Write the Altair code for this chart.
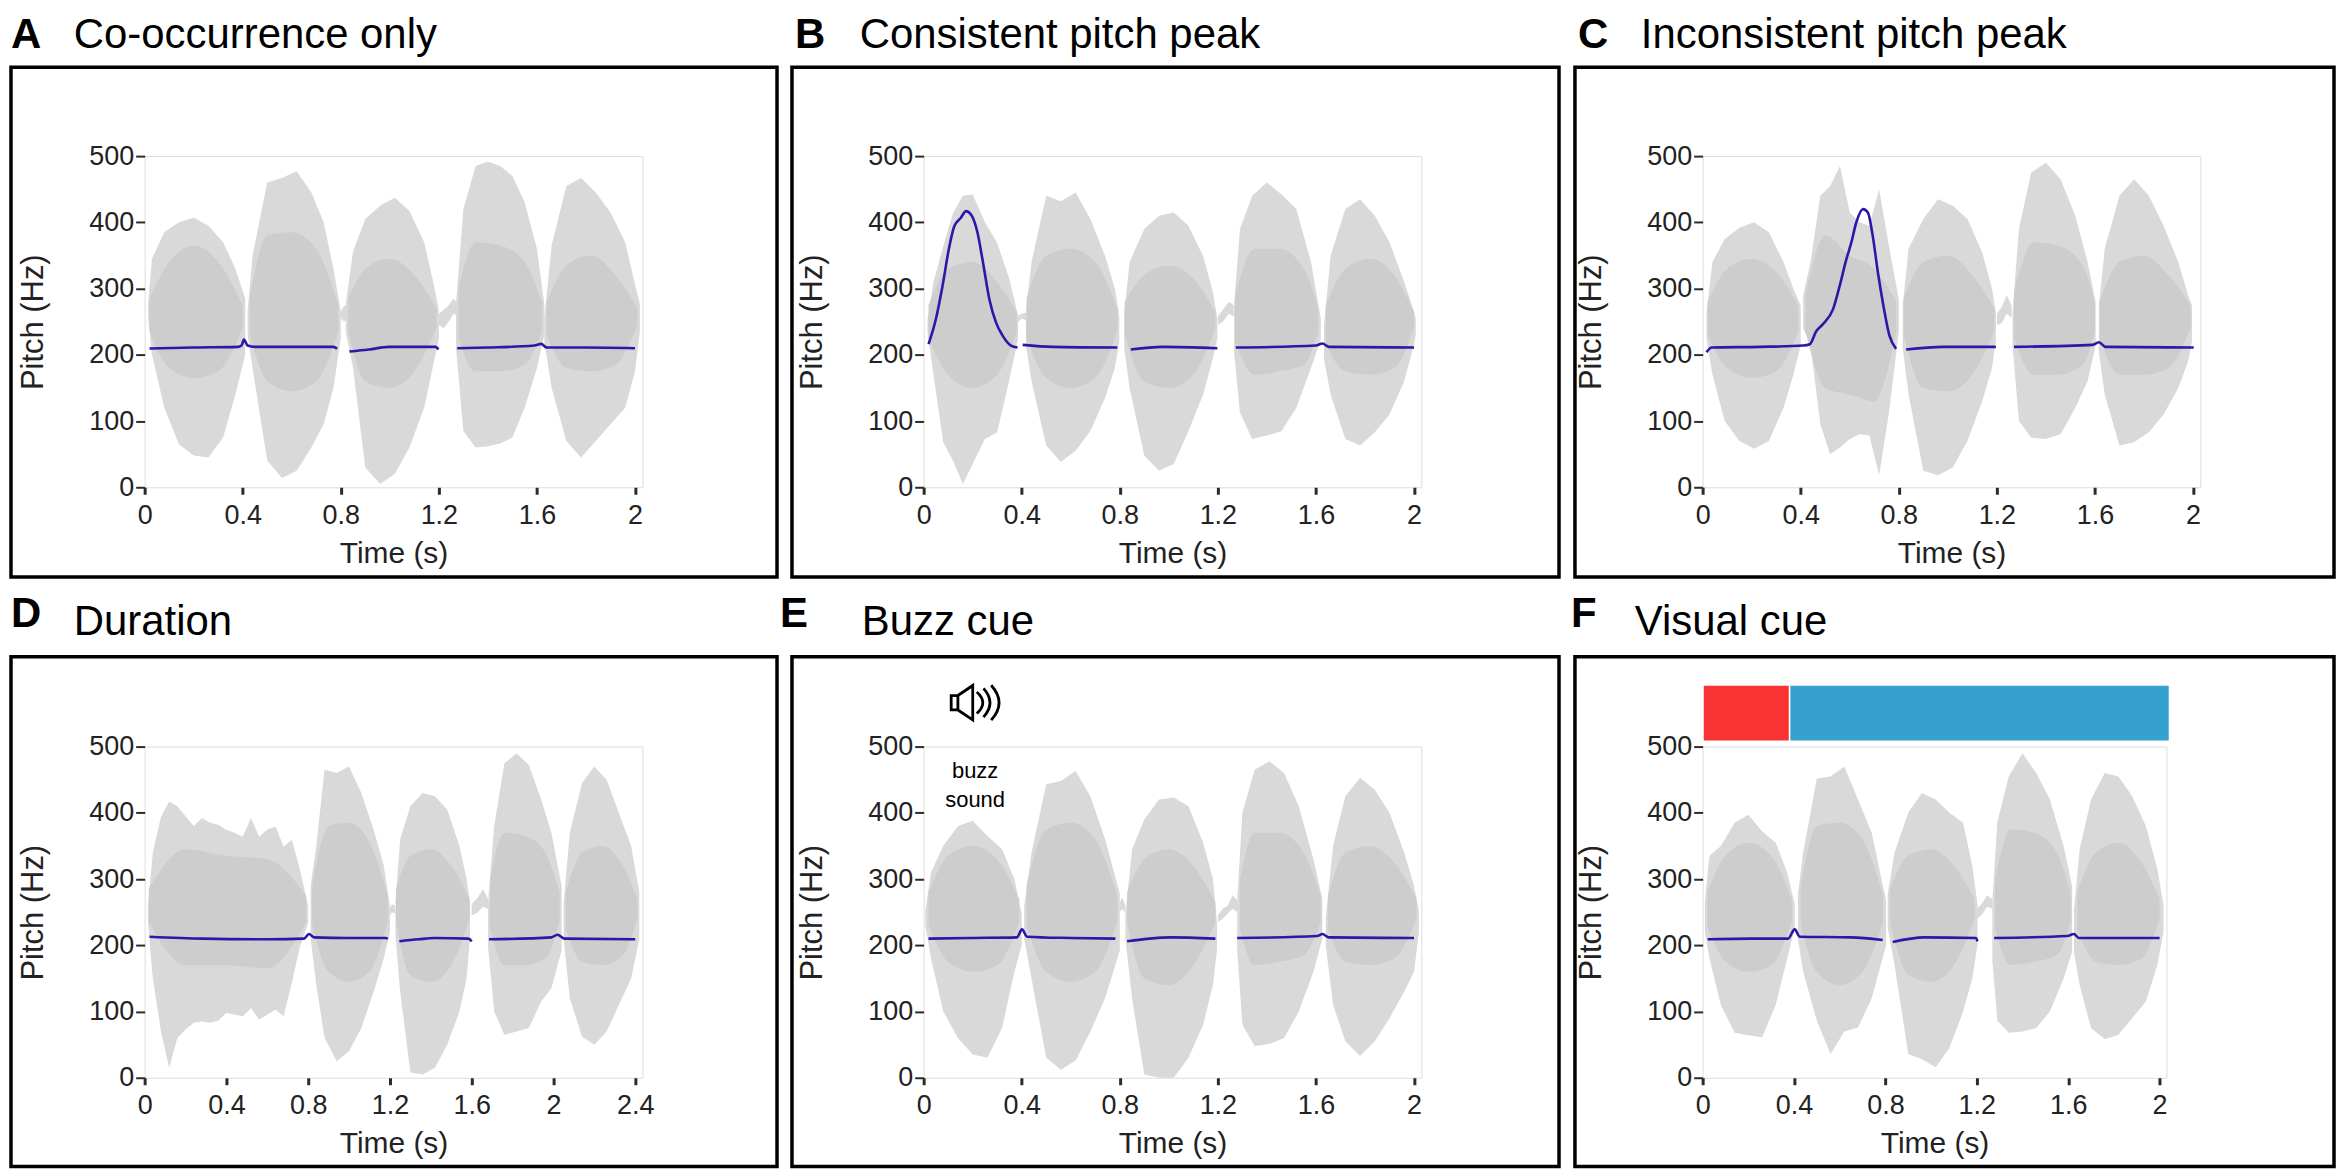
import altair as alt
import pandas as pd

FONT = "Liberation Sans"
WAVE_COLOR = "#d9d9d9"
CORE_COLOR = "#cdcdcd"
PITCH_COLOR = "#2b17a8"

LETTERS = ["A", "B", "C", "D", "E", "F"]
TITLES = ["Co-occurrence only", "Consistent pitch peak", "Inconsistent pitch peak",
          "Duration", "Buzz cue", "Visual cue"]
X_TICKS_2S = [0, 0.4, 0.8, 1.2, 1.6, 2]
X_TICKS_24S = [0, 0.4, 0.8, 1.2, 1.6, 2, 2.4]
Y_TICKS = [0, 100, 200, 300, 400, 500]
X_MAX = [2.03, 2.03, 2.03, 2.435, 2.03, 2.03]

# ---------------- Panel A ----------------
A_WAVE_T = [
    [0.014, 0.03, 0.08, 0.14, 0.2, 0.26, 0.32, 0.37, 0.41],
    [0.42, 0.44, 0.5, 0.56, 0.62, 0.68, 0.73, 0.77, 0.80],
    [0.80, 0.815, 0.83],
    [0.82, 0.85, 0.9, 0.96, 1.02, 1.08, 1.14, 1.18, 1.20],
    [1.2, 1.22, 1.24, 1.26, 1.27],
    [1.27, 1.3, 1.35, 1.4, 1.45, 1.5, 1.55, 1.6, 1.63],
    [1.63, 1.66, 1.72, 1.78, 1.84, 1.9, 1.96, 2.0, 2.02],
]
A_WAVE_HI = [
    [276, 345, 385, 400, 407, 395, 370, 330, 285],
    [266, 350, 460, 467, 477, 445, 400, 330, 266],
    [265, 275, 270],
    [276, 356, 405, 425, 437, 417, 370, 305, 266],
    [262, 268, 275, 285, 280],
    [276, 420, 485, 492, 485, 470, 430, 360, 276],
    [256, 365, 455, 467, 445, 415, 370, 306, 276],
]
A_WAVE_LO = [
    [256, 200, 120, 65, 48, 45, 75, 140, 200],
    [230, 180, 40, 14, 25, 60, 95, 150, 225],
    [255, 250, 258],
    [235, 180, 30, 5, 20, 60, 120, 190, 225],
    [245, 240, 250, 262, 260],
    [210, 85, 60, 62, 66, 75, 120, 180, 230],
    [220, 150, 70, 45, 70, 95, 120, 175, 236],
]
A_CORE_T = [[0.02, 0.1, 0.2, 0.3, 0.4], [0.43, 0.5, 0.6, 0.7, 0.79],
            [0.83, 0.9, 1.0, 1.1, 1.19], [1.28, 1.35, 1.45, 1.55, 1.62],
            [1.64, 1.72, 1.82, 1.92, 2.01]]
A_CORE_HI = [[285, 340, 365, 340, 275], [290, 380, 385, 360, 275],
             [285, 330, 345, 320, 270], [300, 370, 365, 340, 280],
             [280, 335, 350, 320, 270]]
A_CORE_LO = [[235, 180, 165, 175, 240], [230, 160, 145, 160, 235],
             [235, 160, 150, 175, 240], [225, 175, 175, 185, 235],
             [230, 180, 175, 185, 245]]
A_PITCH_T = [
    [0.02, 0.2, 0.38, 0.395, 0.405, 0.42, 0.45, 0.6, 0.77, 0.785],
    [0.835, 0.915, 0.997, 1.1, 1.187, 1.198],
    [1.275, 1.4, 1.59, 1.617, 1.64, 1.8, 2.0],
]
A_PITCH_F = [
    [209.5, 211, 212, 214, 223, 214, 212, 212, 212, 209],
    [205, 208, 212, 212, 212, 208],
    [210, 211, 214, 216.5, 211, 211, 210],
]

# ---------------- Panel B ----------------
B_WAVE_T = [
    [0.016, 0.04, 0.08, 0.12, 0.16, 0.2, 0.25, 0.3, 0.35, 0.385],
    [0.385, 0.4, 0.417],
    [0.417, 0.44, 0.5, 0.56, 0.62, 0.68, 0.74, 0.78, 0.798],
    [0.818, 0.84, 0.9, 0.96, 1.02, 1.08, 1.14, 1.18, 1.198],
    [1.2, 1.22, 1.245, 1.265],
    [1.266, 1.29, 1.34, 1.4, 1.46, 1.52, 1.58, 1.62],
    [1.633, 1.66, 1.72, 1.78, 1.84, 1.9, 1.96, 2.0, 2.007],
]
B_WAVE_HI = [
    [254, 310, 364, 414, 440, 442, 400, 369, 314, 259],
    [259, 262, 264],
    [264, 340, 440, 432, 445, 405, 349, 300, 259],
    [264, 340, 390, 410, 415, 395, 349, 295, 254],
    [258, 268, 280, 275],
    [274, 390, 440, 460, 442, 420, 340, 254],
    [244, 350, 420, 435, 410, 370, 310, 265, 254],
]
B_WAVE_LO = [
    [234, 170, 68, 40, 5, 35, 73, 83, 163, 224],
    [250, 255, 252],
    [215, 160, 63, 38, 55, 85, 135, 180, 220],
    [210, 150, 48, 25, 35, 85, 140, 195, 225],
    [245, 250, 262, 258],
    [204, 113, 73, 78, 85, 120, 180, 224],
    [193, 140, 73, 63, 83, 110, 160, 215, 230],
]
B_CORE_T = [[0.02, 0.1, 0.2, 0.3, 0.38], [0.42, 0.5, 0.6, 0.7, 0.79],
            [0.82, 0.9, 1.0, 1.1, 1.19], [1.27, 1.35, 1.45, 1.55, 1.61],
            [1.64, 1.72, 1.82, 1.92, 2.0]]
B_CORE_HI = [[275, 330, 340, 310, 265], [285, 350, 360, 340, 270],
             [280, 320, 335, 315, 265], [290, 360, 360, 330, 270],
             [275, 330, 345, 320, 265]]
B_CORE_LO = [[225, 170, 150, 170, 235], [225, 165, 150, 165, 235],
             [230, 160, 150, 170, 240], [220, 170, 175, 185, 235],
             [215, 175, 170, 180, 240]]
B_PITCH_T = [
    [0.02, 0.05, 0.077, 0.105, 0.125, 0.152, 0.173, 0.193, 0.22, 0.24, 0.268,
     0.295, 0.322, 0.356, 0.383],
    [0.404, 0.526, 0.79],
    [0.845, 0.974, 1.198],
    [1.273, 1.6, 1.626, 1.654, 2.0],
]
B_PITCH_F = [
    [216, 254, 304, 364, 394, 407, 417, 412, 384, 344, 284, 249, 229, 214, 211],
    [215, 212, 211],
    [208, 212, 210],
    [211, 214, 217, 212, 211],
]

# ---------------- Panel C ----------------
C_WAVE_T = [
    [0.016, 0.04, 0.09, 0.15, 0.21, 0.27, 0.33, 0.37, 0.40],
    [0.41, 0.44, 0.48, 0.52, 0.56, 0.6, 0.64, 0.68, 0.72, 0.76, 0.8],
    [0.816, 0.84, 0.9, 0.96, 1.02, 1.08, 1.14, 1.18, 1.196],
    [1.2, 1.22, 1.24, 1.26],
    [1.264, 1.29, 1.34, 1.4, 1.46, 1.52, 1.57, 1.603],
    [1.616, 1.64, 1.7, 1.76, 1.82, 1.88, 1.94, 1.98, 1.996],
]
C_WAVE_HI = [
    [264, 340, 375, 392, 400, 385, 340, 300, 274],
    [289, 340, 440, 455, 485, 415, 400, 395, 450, 364, 284],
    [274, 360, 405, 435, 425, 405, 355, 300, 264],
    [262, 272, 290, 275],
    [264, 390, 475, 490, 465, 410, 340, 280],
    [274, 360, 440, 465, 440, 395, 340, 290, 274],
]
C_WAVE_LO = [
    [224, 170, 100, 70, 58, 70, 120, 170, 214],
    [240, 214, 95, 50, 60, 73, 80, 78, 18, 113, 234],
    [210, 140, 25, 18, 30, 70, 130, 180, 220],
    [245, 248, 262, 256],
    [214, 100, 75, 73, 80, 120, 160, 214],
    [204, 140, 63, 68, 83, 110, 150, 190, 220],
]
C_CORE_T = [[0.02, 0.1, 0.2, 0.3, 0.39], [0.42, 0.5, 0.6, 0.7, 0.79],
            [0.82, 0.9, 1.0, 1.1, 1.19], [1.27, 1.35, 1.45, 1.55, 1.6],
            [1.62, 1.7, 1.8, 1.9, 1.99]]
C_CORE_HI = [[280, 330, 345, 325, 275], [290, 380, 350, 330, 280],
             [285, 340, 350, 320, 270], [295, 370, 365, 335, 280],
             [280, 340, 350, 320, 275]]
C_CORE_LO = [[230, 180, 165, 175, 235], [235, 150, 140, 130, 235],
             [230, 150, 145, 170, 235], [225, 170, 170, 185, 235],
             [225, 170, 170, 180, 240]]
C_PITCH_T = [
    [0.016, 0.037, 0.233, 0.41, 0.437, 0.464, 0.49, 0.532, 0.559, 0.586, 0.606,
     0.626, 0.654, 0.674, 0.694, 0.715, 0.735, 0.762, 0.789],
    [0.83, 0.98, 1.196],
    [1.27, 1.59, 1.616, 1.644, 2.003],
]
C_PITCH_F = [
    [204, 211, 212, 214, 216, 236, 246, 269, 304, 344, 369, 399, 420, 415, 379,
     324, 279, 229, 209],
    [208, 212, 212],
    [212, 215, 219, 212, 211],
]

# ---------------- Panel D ----------------
D_WAVE_T = [
    [0.016, 0.04, 0.08, 0.12, 0.16, 0.2, 0.24, 0.28, 0.32, 0.36, 0.4, 0.44, 0.48,
     0.52, 0.56, 0.6, 0.64, 0.68, 0.72, 0.76, 0.8],
    [0.812, 0.84, 0.88, 0.94, 1.0, 1.06, 1.12, 1.17, 1.2],
    [1.2, 1.21, 1.225],
    [1.227, 1.25, 1.3, 1.36, 1.42, 1.48, 1.54, 1.575, 1.592],
    [1.6, 1.63, 1.655, 1.68],
    [1.68, 1.71, 1.76, 1.82, 1.88, 1.94, 1.99, 2.04],
    [2.05, 2.08, 2.14, 2.2, 2.26, 2.32, 2.38, 2.42],
]
D_WAVE_HI = [
    [259, 340, 394, 417, 410, 395, 380, 392, 385, 382, 374, 370, 364, 392, 364,
     375, 379, 349, 359, 314, 259],
    [289, 350, 465, 460, 470, 430, 375, 320, 259],
    [255, 262, 260],
    [264, 360, 410, 430, 425, 405, 350, 300, 264],
    [262, 272, 285, 270],
    [264, 380, 475, 490, 472, 420, 370, 289],
    [264, 370, 445, 470, 450, 400, 350, 280],
]
D_WAVE_LO = [
    [234, 150, 70, 15, 60, 73, 83, 85, 83, 86, 98, 95, 93, 105, 88, 95, 103, 93,
     143, 198, 234],
    [210, 140, 60, 25, 40, 75, 130, 180, 220],
    [245, 250, 248],
    [214, 130, 8, 5, 15, 50, 100, 150, 214],
    [245, 250, 258, 255],
    [198, 100, 65, 70, 75, 115, 135, 193],
    [210, 120, 62, 50, 70, 110, 150, 210],
]
D_CORE_T = [[0.02, 0.2, 0.4, 0.6, 0.79], [0.82, 0.9, 1.0, 1.1, 1.19],
            [1.23, 1.3, 1.4, 1.5, 1.59], [1.69, 1.76, 1.86, 1.96, 2.03],
            [2.06, 2.14, 2.24, 2.34, 2.41]]
D_CORE_HI = [[285, 345, 335, 330, 275], [290, 380, 385, 355, 275],
             [285, 335, 345, 320, 270], [300, 370, 365, 340, 280],
             [280, 340, 350, 320, 270]]
D_CORE_LO = [[235, 170, 170, 165, 235], [230, 160, 145, 160, 235],
             [235, 155, 145, 170, 240], [225, 170, 170, 180, 235],
             [225, 175, 170, 185, 240]]
D_PITCH_T = [
    [0.024, 0.284, 0.61, 0.78, 0.804, 0.829, 1.0, 1.178, 1.19],
    [1.246, 1.34, 1.42, 1.584, 1.6],
    [1.685, 1.99, 2.02, 2.055, 2.4],
]
D_PITCH_F = [
    [213, 210, 209, 210, 217, 212, 211, 211, 210],
    [206, 209, 211, 210, 206],
    [209, 212, 216, 210, 209],
]

# ---------------- Panel E ----------------
E_WAVE_T = [
    [0.007, 0.03, 0.08, 0.14, 0.2, 0.26, 0.32, 0.37, 0.4],
    [0.41, 0.44, 0.5, 0.56, 0.62, 0.68, 0.74, 0.8],
    [0.8, 0.81, 0.823],
    [0.823, 0.85, 0.9, 0.96, 1.02, 1.08, 1.14, 1.18, 1.197],
    [1.2, 1.22, 1.24, 1.26, 1.28],
    [1.279, 1.3, 1.35, 1.41, 1.47, 1.53, 1.59, 1.626],
    [1.64, 1.67, 1.72, 1.78, 1.84, 1.9, 1.96, 2.0, 2.02],
]
E_WAVE_HI = [
    [252, 310, 350, 380, 388, 365, 345, 300, 247],
    [258, 340, 443, 448, 463, 425, 360, 278],
    [265, 272, 260],
    [247, 345, 390, 420, 423, 410, 355, 300, 232],
    [245, 255, 260, 275, 268],
    [268, 400, 465, 478, 460, 410, 330, 270],
    [242, 350, 425, 453, 435, 400, 340, 290, 252],
]
E_WAVE_LO = [
    [230, 180, 100, 60, 35, 30, 75, 160, 200],
    [210, 150, 30, 12, 26, 70, 120, 192],
    [250, 255, 248],
    [210, 120, 5, 0, 0, 30, 80, 140, 195],
    [235, 240, 248, 255, 250],
    [192, 80, 48, 51, 60, 100, 160, 210],
    [200, 110, 55, 33, 55, 90, 130, 160, 220],
]
E_CORE_T = [[0.02, 0.1, 0.2, 0.3, 0.39], [0.42, 0.5, 0.6, 0.7, 0.79],
            [0.83, 0.9, 1.0, 1.1, 1.19], [1.29, 1.35, 1.45, 1.55, 1.62],
            [1.65, 1.72, 1.82, 1.92, 2.01]]
E_CORE_HI = [[280, 335, 350, 330, 270], [290, 375, 385, 360, 275],
             [280, 330, 345, 320, 265], [300, 370, 370, 340, 275],
             [275, 340, 350, 325, 270]]
E_CORE_LO = [[230, 175, 160, 170, 235], [230, 160, 145, 160, 235],
             [235, 150, 140, 170, 235], [225, 170, 175, 185, 235],
             [225, 175, 170, 180, 240]]
E_PITCH_T = [
    [0.02, 0.19, 0.381, 0.401, 0.422, 0.6, 0.782],
    [0.83, 1.007, 1.19],
    [1.279, 1.605, 1.626, 1.653, 2.0],
]
E_PITCH_F = [
    [210, 211, 212, 224, 213, 211, 210],
    [206, 212, 210],
    [211, 214, 217, 212, 211],
]
BUZZ_T = [0.21]
BUZZ_LINES = ["buzz", "sound"]

# ---------------- Panel F ----------------
F_WAVE_T = [
    [0.01, 0.03, 0.08, 0.14, 0.2, 0.26, 0.32, 0.37, 0.403],
    [0.417, 0.44, 0.5, 0.56, 0.62, 0.68, 0.74, 0.803],
    [0.81, 0.84, 0.9, 0.96, 1.02, 1.08, 1.14, 1.18, 1.203],
    [1.2, 1.22, 1.245, 1.268],
    [1.268, 1.29, 1.34, 1.4, 1.46, 1.52, 1.58, 1.617],
    [1.625, 1.65, 1.7, 1.76, 1.82, 1.88, 1.94, 1.99, 2.017],
]
F_WAVE_HI = [
    [267, 335, 350, 385, 397, 372, 355, 310, 262],
    [277, 340, 452, 455, 470, 420, 370, 267],
    [277, 340, 400, 430, 420, 400, 385, 320, 262],
    [255, 262, 275, 270],
    [267, 387, 455, 490, 460, 420, 350, 290],
    [252, 345, 420, 460, 455, 425, 380, 315, 262],
]
F_WAVE_LO = [
    [220, 180, 110, 68, 64, 61, 110, 180, 227],
    [210, 160, 86, 36, 70, 76, 120, 200],
    [227, 170, 36, 28, 16, 45, 100, 150, 200],
    [240, 245, 258, 255],
    [177, 86, 68, 70, 75, 100, 150, 190],
    [190, 140, 75, 58, 65, 90, 115, 170, 220],
]
F_CORE_T = [[0.02, 0.1, 0.2, 0.3, 0.39], [0.43, 0.5, 0.6, 0.7, 0.79],
            [0.82, 0.9, 1.0, 1.1, 1.19], [1.28, 1.35, 1.45, 1.55, 1.61],
            [1.64, 1.72, 1.82, 1.92, 2.0]]
F_CORE_HI = [[280, 335, 355, 335, 270], [290, 380, 385, 360, 275],
             [285, 335, 345, 320, 270], [300, 375, 370, 340, 280],
             [280, 340, 355, 325, 270]]
F_CORE_LO = [[230, 175, 160, 170, 235], [230, 160, 140, 160, 235],
             [235, 155, 145, 170, 240], [225, 170, 175, 185, 235],
             [225, 175, 170, 180, 240]]
F_PITCH_T = [
    [0.022, 0.214, 0.374, 0.403, 0.425, 0.65, 0.788],
    [0.832, 0.97, 1.196, 1.203],
    [1.276, 1.596, 1.625, 1.647, 2.0],
]
F_PITCH_F = [
    [209, 210, 210, 224, 213, 212, 208],
    [205, 212, 211, 206],
    [211, 214, 217, 211, 211],
]
CUE_NAMES = ["cue", "sentence"]
CUE_START = [0.005, 0.384]
CUE_END = [0.377, 2.04]
CUE_COLORS = ["#f93333", "#36a0cf"]

# ---------------- layout (pixels relative to each plot's top-left) ----------------
PLOT_H = 332
PLOT_W = [499, 499, 499, 499, 499, 465]
BOX = [(-134, 634, -89, 422), (-132, 637, -89, 422), (-128, 633, -89, 422),
       (-134, 634, -90, 421), (-132, 637, -90, 421), (-128, 633, -90, 421)]
LETTER_POS = [(-134, -108), (-129, -108), (-125, -108),
              (-134, -120), (-144, -120), (-132, -120)]
TITLE_POS = [(-71, -108), (-64, -108), (-62, -108),
             (-71, -112), (-62, -112), (-68, -112)]

SPEAKER = ("M -1 -0.3 L -0.72 -0.3 L -0.72 0.3 L -1 0.3 Z "
           "M -0.72 -0.3 L -0.1 -0.72 L -0.1 0.72 L -0.72 0.3 Z "
           "M 0.07 -0.45 Q 0.57 0 0.07 0.45 "
           "M 0.35 -0.6 Q 0.89 0 0.35 0.6 "
           "M 0.67 -0.73 Q 1.33 0 0.67 0.73")

ONE = pd.DataFrame({"k": [0]})


def wave_df(ts, his, los):
    rows = []
    for i, (t, h, l) in enumerate(zip(ts, his, los)):
        for a, b, c in zip(t, h, l):
            rows.append({"seg": i, "t": a, "hi": b, "lo": c})
    return pd.DataFrame(rows)


def pitch_df(ts, fs):
    rows = []
    for i, (t, f) in enumerate(zip(ts, fs)):
        for a, b in zip(t, f):
            rows.append({"seg": i, "t": a, "f": b})
    return pd.DataFrame(rows)


def x_axis(ticks):
    return alt.Axis(values=ticks, format="~g", title="Time (s)", domain=False, grid=False,
                    tickSize=7, tickWidth=3, tickColor="#2b2b2b",
                    labelFont=FONT, labelFontSize=27, labelColor="#222222",
                    labelPadding=8, labelFlush=False, labelOverlap=False,
                    titleFont=FONT, titleFontSize=30, titleFontWeight="normal",
                    titleColor="#222222", titleY=75, titleBaseline="alphabetic")


Y_AXIS = alt.Axis(values=Y_TICKS, title="Pitch (Hz)", domain=False, grid=False,
                  tickSize=9, tickWidth=2, tickColor="#2b2b2b",
                  labelFont=FONT, labelFontSize=27, labelColor="#222222",
                  labelPadding=2, labelOverlap=False,
                  titleFont=FONT, titleFontSize=31, titleFontWeight="normal",
                  titleColor="#222222", titleX=-111, titleY=PLOT_H / 2,
                  titleAngle=270, titleBaseline="middle", titleAlign="center")
Y_SCALE = alt.Scale(domain=[0, 500], nice=False, zero=False)


def make_panel(i, wt, wh, wl, ct, ch, cl, pt, pf, extras=None):
    ticks = X_TICKS_24S if i == 3 else X_TICKS_2S
    xs = alt.Scale(domain=[0, X_MAX[i]], nice=False, zero=False)
    xax = x_axis(ticks)

    def X(field):
        return alt.X(field, type="quantitative", scale=xs, axis=xax)

    bx = BOX[i]
    box = alt.Chart(ONE).mark_rect(filled=False, color="black", strokeWidth=3.5).encode(
        x=alt.value(bx[0]), x2=alt.value(bx[1]), y=alt.value(bx[2]), y2=alt.value(bx[3]))
    letter = alt.Chart(ONE).mark_text(
        text=LETTERS[i], font=FONT, fontSize=42, fontWeight="bold", color="black",
        align="left", baseline="alphabetic").encode(
        x=alt.value(LETTER_POS[i][0]), y=alt.value(LETTER_POS[i][1]))
    title = alt.Chart(ONE).mark_text(
        text=TITLES[i], font=FONT, fontSize=42, color="black",
        align="left", baseline="alphabetic").encode(
        x=alt.value(TITLE_POS[i][0]), y=alt.value(TITLE_POS[i][1]))
    wave = alt.Chart(wave_df(wt, wh, wl)).mark_area(color=WAVE_COLOR, opacity=1).encode(
        x=X("t"), y=alt.Y("hi:Q", scale=Y_SCALE, axis=Y_AXIS), y2="lo:Q",
        detail="seg:N")
    core = alt.Chart(wave_df(ct, ch, cl)).mark_area(
        color=CORE_COLOR, opacity=1, interpolate="monotone").encode(
        x=X("t"), y=alt.Y("hi:Q", scale=Y_SCALE, axis=Y_AXIS), y2="lo:Q",
        detail="seg:N")
    pitch = alt.Chart(pitch_df(pt, pf)).mark_line(
        color=PITCH_COLOR, strokeWidth=2.6, interpolate="monotone").encode(
        x=X("t"), y=alt.Y("f:Q", scale=Y_SCALE, axis=Y_AXIS), detail="seg:N")
    layers = [box, letter, title, wave, core, pitch]
    if extras:
        layers += extras(X)
    return alt.layer(*layers).properties(width=PLOT_W[i], height=PLOT_H)


def buzz_extras(X):
    d = pd.DataFrame({"t": BUZZ_T})
    icon = alt.Chart(d).mark_point(shape=SPEAKER, size=2304, filled=False,
                                   color="black", strokeWidth=2.8, opacity=1).encode(
        x=X("t"), y=alt.value(-44))
    l1 = alt.Chart(d).mark_text(text=BUZZ_LINES[0], font=FONT, fontSize=22, color="black",
                                align="center", baseline="alphabetic").encode(
        x=X("t"), y=alt.value(31))
    l2 = alt.Chart(d).mark_text(text=BUZZ_LINES[1], font=FONT, fontSize=22, color="black",
                                align="center", baseline="alphabetic").encode(
        x=X("t"), y=alt.value(61))
    return [icon, l1, l2]


def cue_extras(X):
    d = pd.DataFrame({"cue": CUE_NAMES, "t0": CUE_START, "t1": CUE_END})
    bars = alt.Chart(d).mark_rect().encode(
        x=X("t0"), x2="t1:Q", y=alt.value(-61), y2=alt.value(-6),
        color=alt.Color("cue:N", scale=alt.Scale(domain=CUE_NAMES, range=CUE_COLORS),
                        legend=None))
    return [bars]


panels = [
    make_panel(0, A_WAVE_T, A_WAVE_HI, A_WAVE_LO, A_CORE_T, A_CORE_HI, A_CORE_LO,
               A_PITCH_T, A_PITCH_F),
    make_panel(1, B_WAVE_T, B_WAVE_HI, B_WAVE_LO, B_CORE_T, B_CORE_HI, B_CORE_LO,
               B_PITCH_T, B_PITCH_F),
    make_panel(2, C_WAVE_T, C_WAVE_HI, C_WAVE_LO, C_CORE_T, C_CORE_HI, C_CORE_LO,
               C_PITCH_T, C_PITCH_F),
    make_panel(3, D_WAVE_T, D_WAVE_HI, D_WAVE_LO, D_CORE_T, D_CORE_HI, D_CORE_LO,
               D_PITCH_T, D_PITCH_F),
    make_panel(4, E_WAVE_T, E_WAVE_HI, E_WAVE_LO, E_CORE_T, E_CORE_HI, E_CORE_LO,
               E_PITCH_T, E_PITCH_F, buzz_extras),
    make_panel(5, F_WAVE_T, F_WAVE_HI, F_WAVE_LO, F_CORE_T, F_CORE_HI, F_CORE_LO,
               F_PITCH_T, F_PITCH_F, cue_extras),
]

chart = alt.concat(*panels, columns=3, spacing={"row": 260, "column": 282},
                   bounds="flush").properties(
    padding={"top": 4, "left": 0, "right": 0, "bottom": 0}).configure_view(
    stroke="#6e6e6e", strokeWidth=2).configure(font=FONT, background="white")

chart.save("out.html", embed_options={"renderer": "svg", "actions": False})
